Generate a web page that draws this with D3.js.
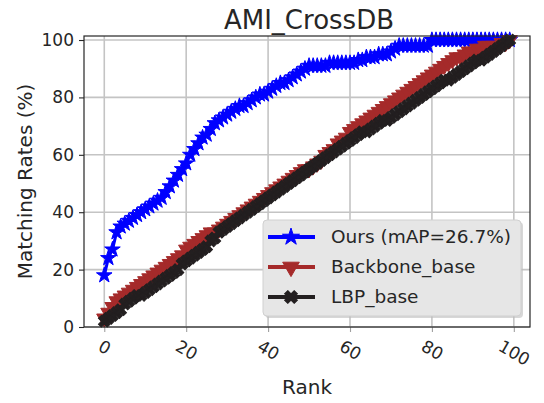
<!DOCTYPE html>
<html>
<head>
<meta charset="utf-8">
<script src="https://cdn.jsdelivr.net/npm/d3@7"></script>
<style>
    body { margin: 0; background: #ffffff; }
    text { font-family: "DejaVu Sans", sans-serif; fill: #262626; }
</style>
</head>
<body>
<script>
// 排名（横轴）
const ranks = d3.range(100);
// 刻度
const xTicks = [0, 20, 40, 60, 80, 100];
const yTicks = [0, 20, 40, 60, 80, 100];

// 各方法的匹配率 (%)
const oursRates = [
    18, 24, 27, 33, 35, 36, 37, 38, 39, 40,
    41, 42, 43, 44, 45, 47, 49, 51, 53, 55,
    57, 60, 62, 64, 66, 67, 69, 71, 72, 73,
    74, 75, 76, 77, 77, 78, 79, 80, 81, 81,
    82, 83, 84, 85, 85, 86, 87, 88, 89, 90,
    91, 91, 91, 91, 91, 92, 92, 92, 92, 92,
    92, 92, 93, 93, 94, 94, 94, 95, 95, 95,
    96, 97, 98, 98, 98, 98, 98, 98, 98, 98,
    100, 100, 100, 100, 100, 100, 100, 100, 100, 100,
    100, 100, 100, 100, 100, 100, 100, 100, 100, 100
];
const backboneRates = [
    3, 5, 7, 9, 10, 11, 12, 13, 14, 15,
    16, 17, 18, 19, 20, 21, 22, 23, 24, 25,
    27, 28, 29, 30, 31, 32, 33, 33, 34, 35,
    36, 37, 38, 39, 40, 41, 42, 43, 44, 45,
    46, 47, 48, 49, 50, 51, 52, 53, 54, 55,
    55, 56, 57, 58, 60, 61, 62, 64, 65, 66,
    68, 69, 70, 71, 72, 73, 74, 75, 76, 77,
    78, 79, 80, 81, 82, 83, 84, 85, 86, 87,
    88, 89, 90, 91, 92, 93, 94, 94, 95, 96,
    96, 97, 97, 98, 98, 98, 98, 99, 99, 100
];
const lbpRates = [
    2, 3, 4, 5, 6, 8, 9, 10, 11, 11,
    12, 13, 14, 15, 16, 17, 18, 19, 20, 22,
    23, 24, 25, 26, 27, 28, 30, 31, 33, 34,
    35, 36, 37, 38, 39, 40, 41, 42, 43, 44,
    45, 46, 47, 48, 49, 50, 51, 52, 53, 54,
    55, 56, 57, 58, 59, 60, 61, 62, 63, 64,
    65, 66, 67, 68, 68, 69, 70, 71, 72, 72,
    73, 74, 75, 76, 77, 78, 79, 80, 81, 82,
    83, 84, 85, 86, 86, 87, 88, 89, 90, 91,
    92, 93, 93, 94, 95, 96, 97, 98, 99, 100
];

const seriesNames = ['Ours (mAP=26.7%)', 'Backbone_base', 'LBP_base'];
const seriesColors = ['#0000ff', '#a52a2a', '#231f20'];

/**
 * 初始化 SVG 画布
 */
const initSVG = (params) => {
    let {svgWidth, svgHeight} = params;
    return d3.select('body')
        .append('svg')
        .attr('width', svgWidth)
        .attr('height', svgHeight);
};

/**
 * 绘制折线图
 */
const renderChart = (svg, params) => {
    let {left, right, top, bottom} = params;

    const x = d3.scaleLinear().domain([-4.95, 103.95]).range([left, right]);
    const y = d3.scaleLinear().domain([0, 101.4]).range([bottom, top]);

    // 网格线
    const grid = svg.append('g').attr('class', 'grid');
    grid.selectAll('line.gx')
        .data(xTicks)
        .enter()
        .append('line')
        .attr('x1', d => x(d)).attr('x2', d => x(d))
        .attr('y1', top).attr('y2', bottom)
        .attr('stroke', '#c4c4c4')
        .attr('stroke-width', 1.6);
    grid.selectAll('line.gy')
        .data(yTicks)
        .enter()
        .append('line')
        .attr('x1', left).attr('x2', right)
        .attr('y1', d => y(d)).attr('y2', d => y(d))
        .attr('stroke', '#c4c4c4')
        .attr('stroke-width', 1.6);

    // 坐标轴
    const yAxis = svg.append('g')
        .attr('transform', `translate(${left},0)`)
        .call(d3.axisLeft(y).tickValues(yTicks).tickSize(5).tickPadding(5));
    yAxis.select('.domain').remove();
    yAxis.selectAll('line').attr('stroke', '#262626').attr('stroke-width', 1.1);
    yAxis.selectAll('text').style('font-size', '17px').attr('fill', '#262626');

    const xAxis = svg.append('g')
        .attr('transform', `translate(0,${bottom})`)
        .call(d3.axisBottom(x).tickValues(xTicks).tickSize(5).tickFormat(d3.format('d')));
    xAxis.select('.domain').remove();
    xAxis.selectAll('line').attr('stroke', '#a0a0a0').attr('stroke-width', 1.1);
    xAxis.selectAll('text')
        .style('font-size', '17px')
        .attr('fill', '#262626')
        .attr('dy', null)
        .attr('text-anchor', 'middle')
        .attr('dominant-baseline', 'central')
        .each(function () {
            // 旋转后按包围盒顶端对齐
            const w = this.getComputedTextLength();
            const h = 13;
            const a = Math.PI / 6;
            const half = (w * Math.sin(a) + h * Math.cos(a)) / 2;
            d3.select(this)
                .attr('y', 0)
                .attr('transform', `translate(0,${12 + half}) rotate(30)`);
        });

    // 折线与标记
    const line = d3.line()
        .x((d, i) => x(ranks[i]))
        .y(d => y(d));
    const symbols = [
        {type: d3.symbolStar, size: 75, rotate: 0},
        {type: d3.symbolTriangle, size: 100, rotate: 180},
        {type: d3.symbolCross, size: 85, rotate: 45}
    ];
    const allRates = [oursRates, backboneRates, lbpRates];

    svg.append('clipPath').attr('id', 'plotClip')
        .append('rect')
        .attr('x', left).attr('y', top - 6)
        .attr('width', right - left).attr('height', bottom - top + 12);

    const plot = svg.append('g').attr('clip-path', 'url(#plotClip)');
    allRates.forEach((rates, k) => {
        const g = plot.append('g');
        g.append('path')
            .datum(rates)
            .attr('d', line)
            .attr('fill', 'none')
            .attr('stroke', seriesColors[k])
            .attr('stroke-width', 3);
        g.selectAll('path.mk')
            .data(rates)
            .enter()
            .append('path')
            .attr('class', 'mk')
            .attr('d', d3.symbol().type(symbols[k].type).size(symbols[k].size))
            .attr('transform', (d, i) => `translate(${x(ranks[i])},${y(d)}) rotate(${symbols[k].rotate})`)
            .attr('fill', seriesColors[k])
            .attr('stroke', seriesColors[k])
            .attr('stroke-width', 1);
    });

    // 边框
    svg.append('rect')
        .attr('x', left).attr('y', top)
        .attr('width', right - left).attr('height', bottom - top)
        .attr('fill', 'none')
        .attr('stroke', '#262626')
        .attr('stroke-width', 1.2);

    // 标题与轴标签
    svg.append('text')
        .attr('x', (left + right) / 2 + 2).attr('y', 29)
        .attr('text-anchor', 'middle')
        .style('font-size', '26px')
        .text('AMI_CrossDB');
    svg.append('text')
        .attr('x', (left + right) / 2).attr('y', 394)
        .attr('text-anchor', 'middle')
        .style('font-size', '20px')
        .text('Rank');
    svg.append('text')
        .attr('transform', `translate(32,${(top + bottom) / 2}) rotate(-90)`)
        .attr('text-anchor', 'middle')
        .style('font-size', '20px')
        .text('Matching Rates (%)');

    // 图例
    const legend = svg.append('g').attr('transform', 'translate(263,220)');
    legend.append('rect')
        .attr('x', 2).attr('y', 2)
        .attr('width', 258).attr('height', 96)
        .attr('rx', 4)
        .attr('fill', '#bdbdbd')
        .attr('opacity', 0.6);
    legend.append('rect')
        .attr('width', 258).attr('height', 96)
        .attr('rx', 4)
        .attr('fill', '#e6e6e6')
        .attr('stroke', '#d0d0d0')
        .attr('stroke-width', 1);
    seriesNames.forEach((name, k) => {
        const cy = 17 + k * 30;
        legend.append('line')
            .attr('x1', 5).attr('x2', 52)
            .attr('y1', cy).attr('y2', cy)
            .attr('stroke', seriesColors[k])
            .attr('stroke-width', 4);
        legend.append('path')
            .attr('d', d3.symbol().type(symbols[k].type).size(symbols[k].size * 1.2))
            .attr('transform', `translate(28,${cy}) rotate(${symbols[k].rotate})`)
            .attr('fill', seriesColors[k])
            .attr('stroke', seriesColors[k]);
        legend.append('text')
            .attr('x', 68).attr('y', cy)
            .attr('dy', '0.35em')
            .style('font-size', '18.5px')
            .text(name);
    });
};

let chartParams = {
    svgWidth: 544,
    svgHeight: 403,
    left: 84,
    right: 530,
    top: 36,
    bottom: 327
};
let chartSVG = initSVG(chartParams);
renderChart(chartSVG, chartParams);
</script>
</body>
</html>
